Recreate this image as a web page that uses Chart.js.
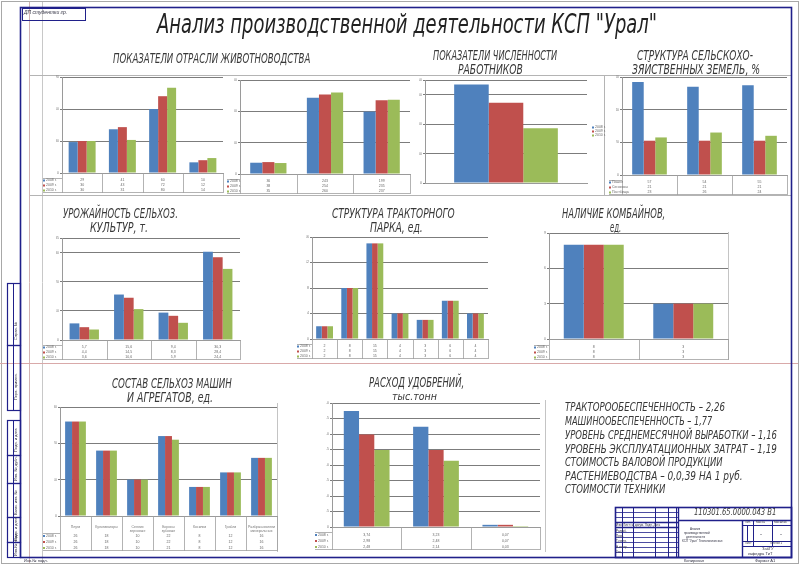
<!DOCTYPE html>
<html lang="ru">
<head>
<meta charset="utf-8">
<script src="https://cdn.jsdelivr.net/npm/chart.js@4.4.1/dist/chart.umd.min.js"></script>
<style>
  html, body { margin: 0; padding: 0; background: #fff; }
  #page { position: relative; width: 800px; height: 565px; overflow: hidden; }
  #page canvas { position: absolute; }
  .t { position: absolute; white-space: nowrap; line-height: 1; transform-origin: 0 0; color: #383838;
       font-family: 'Liberation Sans Narrow', 'DejaVu Sans Condensed', sans-serif; font-style: italic; }
  .big { font-family: 'DejaVu Sans', sans-serif; font-weight: 200; color: #222; }
  .tiny { position: absolute; white-space: nowrap; line-height: 1; font-family: 'Liberation Sans', sans-serif;
          font-size: 4px; color: #334; }
  .rot { transform-origin: 0 0; transform: rotate(-90deg); }
</style>
</head>
<body>
<div id="page">
  <canvas id="sheet" width="800" height="565" style="left:0;top:0"></canvas>

  <div class="t big" data-x="407" data-y="14" data-fs="26" data-w="500" data-a="c">Анализ производственной деятельности КСП "Урал"</div>

  <div class="t" data-x="211" data-y="53" data-fs="14" data-w="197" data-a="c">ПОКАЗАТЕЛИ ОТРАСЛИ ЖИВОТНОВОДСТВА</div>
  <div class="t" data-x="495" data-y="50" data-fs="14" data-w="124" data-a="c">ПОКАЗАТЕЛИ ЧИСЛЕННОСТИ</div>
  <div class="t" data-x="490" data-y="64" data-fs="14" data-w="65" data-a="c">РАБОТНИКОВ</div>
  <div class="t" data-x="695" data-y="50" data-fs="14" data-w="116" data-a="c">СТРУКТУРА СЕЛЬСКОХО-</div>
  <div class="t" data-x="696" data-y="64" data-fs="14" data-w="128" data-a="c">ЗЯЙСТВЕННЫХ ЗЕМЕЛЬ, %</div>

  <div class="t" data-x="120" data-y="208" data-fs="14" data-w="115" data-a="c">УРОЖАЙНОСТЬ СЕЛЬХОЗ.</div>
  <div class="t" data-x="119" data-y="222" data-fs="14" data-w="58" data-a="c">КУЛЬТУР, т.</div>
  <div class="t" data-x="393" data-y="208" data-fs="14" data-w="123" data-a="c">СТРУКТУРА ТРАКТОРНОГО</div>
  <div class="t" data-x="396" data-y="222" data-fs="14" data-w="53" data-a="c">ПАРКА, ед.</div>
  <div class="t" data-x="613" data-y="208" data-fs="14" data-w="103" data-a="c">НАЛИЧИЕ КОМБАЙНОВ,</div>
  <div class="t" data-x="615" data-y="222" data-fs="14" data-w="11" data-a="c">ед.</div>

  <div class="t" data-x="172" data-y="378" data-fs="14" data-w="120" data-a="c">СОСТАВ СЕЛЬХОЗ МАШИН</div>
  <div class="t" data-x="170" data-y="392" data-fs="14" data-w="86" data-a="c">И АГРЕГАТОВ, ед.</div>
  <div class="t" data-x="416" data-y="377" data-fs="14" data-w="95" data-a="c">РАСХОД УДОБРЕНИЙ,</div>
  <div class="t" data-x="414" data-y="392" data-fs="11" data-w="45" data-a="c">тыс.тонн</div>

  <div class="t" data-x="565" data-y="402" data-fs="13" data-w="160" data-a="l">ТРАКТОРООБЕСПЕЧЕННОСТЬ – 2,26</div>
  <div class="t" data-x="565" data-y="416" data-fs="13" data-w="147" data-a="l">МАШИНООБЕСПЕЧЕННОСТЬ – 1,77</div>
  <div class="t" data-x="565" data-y="430" data-fs="13" data-w="212" data-a="l">УРОВЕНЬ СРЕДНЕМЕСЯЧНОЙ ВЫРАБОТКИ – 1,16</div>
  <div class="t" data-x="565" data-y="444" data-fs="13" data-w="212" data-a="l">УРОВЕНЬ ЭКСПЛУАТАЦИОННЫХ ЗАТРАТ – 1,19</div>
  <div class="t" data-x="565" data-y="457" data-fs="13" data-w="158" data-a="l">СТОИМОСТЬ ВАЛОВОЙ ПРОДУКЦИИ</div>
  <div class="t" data-x="565" data-y="471" data-fs="13" data-w="178" data-a="l">РАСТЕНИЕВОДСТВА – 0,0,39 НА 1 руб.</div>
  <div class="t" data-x="565" data-y="484" data-fs="13" data-w="100" data-a="l">СТОИМОСТИ ТЕХНИКИ</div>

  <div class="t" data-x="694" data-y="510" data-fs="8" data-w="82" data-a="l">110301.65.0000.043 В1</div>
  <div class="tiny" style="left:690px;top:528px;font-size:3px">Анализ</div>
  <div class="tiny" style="left:684px;top:532px;font-size:3px">производственной</div>
  <div class="tiny" style="left:686px;top:536px;font-size:3px">деятельности</div>
  <div class="tiny" style="left:682px;top:540px;font-size:3px">КСП "Урал" Технологическая</div>
  <div class="tiny" style="left:745px;top:521px;font-size:3px">Лит.</div>
  <div class="tiny" style="left:756px;top:521px;font-size:3px">Масса</div>
  <div class="tiny" style="left:774px;top:521px;font-size:3px">Масштаб</div>
  <div class="tiny" style="left:760px;top:531px;font-size:6px">-</div>
  <div class="tiny" style="left:780px;top:531px;font-size:6px">-</div>
  <div class="tiny" style="left:745px;top:542px;font-size:3px">Лист</div>
  <div class="tiny" style="left:770px;top:542px;font-size:3px">Листов 1</div>
  <div class="tiny" style="left:762px;top:547px;font-size:4px">ЗабГУ</div>
  <div class="tiny" style="left:748px;top:552px;font-size:4px">кафедра ТиТ</div>
  <div class="tiny" style="left:616px;top:524px;font-size:3px">Изм. Лист № докум. Подп. Дата</div>
  <div class="tiny" style="left:616px;top:530px;font-size:3px">Разраб.</div>
  <div class="tiny" style="left:616px;top:535px;font-size:3px">Пров.</div>
  <div class="tiny" style="left:616px;top:540px;font-size:3px">Т.контр.</div>
  <div class="tiny" style="left:616px;top:546px;font-size:3px">Н.контр.</div>
  <div class="tiny" style="left:616px;top:551px;font-size:3px">Утв.</div>
  <div class="tiny" style="left:684px;top:559px">Копировал</div>
  <div class="tiny" style="left:755px;top:559px">Формат A1</div>
  <div class="tiny" style="left:24px;top:10px;font-size:5px;font-style:italic">ДП студентки гр.</div>
  <div class="tiny" style="left:24px;top:559px">Инв.№ подл.</div>

  <div class="tiny rot" style="left:14px;top:340px">Справ. №</div>
  <div class="tiny rot" style="left:14px;top:400px">Перв. примен.</div>
  <div class="tiny rot" style="left:14px;top:452px">Подп. и дата</div>
  <div class="tiny rot" style="left:14px;top:481px">Инв. № дубл.</div>
  <div class="tiny rot" style="left:14px;top:515px">Взам. инв. №</div>
  <div class="tiny rot" style="left:14px;top:541px">Подп. и дата</div>
  <div class="tiny rot" style="left:14px;top:556px">Инв.№ подл.</div>

  <canvas id="c1"></canvas><canvas id="c2"></canvas><canvas id="c3"></canvas>
  <canvas id="c4"></canvas><canvas id="c5"></canvas><canvas id="c6"></canvas>
  <canvas id="c7"></canvas><canvas id="c8"></canvas><canvas id="c9"></canvas>
</div>

<script>
// ---- данные ----
const years = ['2008 г.', '2009 г.', '2010 г.'];

// животноводство (1)
const stockCats = ['Поголовье КРС', 'Поголовье коров', 'Надой на 1 корову', 'Привес 1 гол.'];
const stock2008 = [29, 41, 60, 10];
const stock2009 = [30, 43, 72, 12];
const stock2010 = [30, 31, 80, 14];

// животноводство (2)
const prodCats = ['Поголовье свиней', 'Производство молока', 'Производство мяса'];
const prod2008 = [36, 243, 199];
const prod2009 = [38, 254, 235];
const prod2010 = [35, 260, 237];

// численность работников
const staffCats = ['Численность работников'];
const staff2008 = [335];
const staff2009 = [273];
const staff2010 = [186];

// структура земель, %
const landTypes = ['Пашня', 'Сенокосы', 'Пастбища'];
const landArable = [57, 54, 55];
const landHay = [21, 21, 21];
const landPasture = [23, 26, 24];

// урожайность
const cropCats = ['Зерновые', 'Картофель', 'Овощи', 'Корнеплоды'];
const crop2008 = [5.7, 15.6, 9.4, 30.3];
const crop2009 = [4.4, 14.5, 8.3, 28.4];
const crop2010 = [3.6, 10.6, 5.9, 24.4];

// тракторный парк
const tractorCats = ['К-701', 'Т-150К', 'МТЗ-80', 'ДТ-75', 'Т-40', 'ЮМЗ-6', 'Т-16'];
const tractor2008 = [2, 8, 15, 4, 3, 6, 4];
const tractor2009 = [2, 8, 15, 4, 3, 6, 4];
const tractor2010 = [2, 8, 15, 4, 3, 6, 4];

// комбайны
const combineCats = ['Зерноуборочные', 'Кормоуборочные'];
const combine2008 = [8, 3];
const combine2009 = [8, 3];
const combine2010 = [8, 3];

// сельхозмашины
const machineCats = [['Плуги'], ['Культиваторы'], ['Сеялки', 'зерновые'], ['Бороны', 'зубовые'], ['Косилки'], ['Грабли'], ['Разбрасыватели', 'минеральных', 'удобрений']];
const machine2008 = [26, 18, 10, 22, 8, 12, 16];
const machine2009 = [26, 18, 10, 22, 8, 12, 16];
const machine2010 = [26, 18, 10, 21, 8, 12, 16];

// удобрения, тыс. т
const fertCats = ['Органические удобрения', 'Минеральные', 'Химические средства'];
const fert2008 = [3.74, 3.23, 0.07];
const fert2009 = [2.98, 2.48, 0.07];
const fert2010 = [2.48, 2.14, 0.03];

// ---- оформление ----
const colors = ['#4F81BD', '#C0504D', '#9BBB59'];

// подписи: подгонка ширины под чертёжный шрифт
document.querySelectorAll('.t').forEach(el => {
  const fs = +el.dataset.fs, w = +el.dataset.w, x = +el.dataset.x;
  el.style.fontSize = fs + 'px';
  el.style.top = (+el.dataset.y - 0.125 * fs) + 'px';
  const k = w / el.offsetWidth;
  el.style.left = (el.dataset.a === 'c' ? x - w / 2 : x) + 'px';
  el.style.transform = 'scaleX(' + k + ')';
});

// рамка листа
const g = document.getElementById('sheet').getContext('2d');
function ln(x1, y1, x2, y2, c, w) {
  g.strokeStyle = c; g.lineWidth = w || 1;
  g.beginPath(); g.moveTo(x1, y1); g.lineTo(x2, y2); g.stroke();
}
function rect(x, y, w, h, c, lw) { g.strokeStyle = c; g.lineWidth = lw || 1; g.strokeRect(x, y, w, h); }
const navy = '#20208a';
rect(1.5, 1.5, 797, 562, '#a8a8a8', 1);
ln(29.5, 2, 29.5, 563, '#d2b4b4', 1);
ln(42.5, 2, 42.5, 563, '#c8c8c8', 1);
ln(0, 363.5, 798, 363.5, '#d9a9a9', 1);
ln(30, 75.5, 792, 75.5, '#b4b4b4', 1);
ln(30, 195.5, 792, 195.5, '#b4b4b4', 1);
ln(604.5, 75, 604.5, 195, '#b4b4b4', 1);
ln(728.5, 232, 728.5, 360, '#c4c4c4', 1);
ln(277.5, 403, 277.5, 552, '#c4c4c4', 1);
ln(545.5, 400, 545.5, 552, '#c4c4c4', 1);
rect(20.5, 7.5, 771, 550, navy, 1.6);
rect(22.5, 8.5, 63, 12, navy, 1);
// боковая графа
[[283, 345], [345, 410], [420, 455], [455, 483], [483, 517], [517, 542], [542, 557]].forEach(([a, b]) => {
  rect(7.5, a + 0.5, 13, b - a, navy, 1.2);
  ln(13.5, a, 13.5, b, navy, 1);
});
// основная надпись
rect(615.5, 507.5, 176, 50, navy, 1.6);
for (let y = 512; y < 557; y += 5) ln(615, y + 0.5, 678, y + 0.5, navy, y === 522 || y === 527 ? 1.3 : 0.8);
[622, 633, 655, 668, 676].forEach(x => ln(x + 0.5, 507, x + 0.5, 557, navy, 1));
ln(678.5, 507, 678.5, 557, navy, 1.4);
ln(742.5, 520, 742.5, 557, navy, 1.4);
ln(678, 520.5, 792, 520.5, navy, 1.4);
ln(742, 525.5, 792, 525.5, navy, 1);
ln(742, 541.5, 792, 541.5, navy, 1);
ln(742, 546.5, 792, 546.5, navy, 1);
[753, 772].forEach(x => ln(x + 0.5, 520, x + 0.5, 546, navy, 1));
ln(747.5, 525, 747.5, 541, navy, 1);

// ---- графики ----
Chart.defaults.animation = false;
Chart.defaults.font.family = '"Liberation Sans", Arial, sans-serif';

const tablePlugin = {
  id: 'dataTable',
  afterDraw(chart, args, opts) {
    const { ctx, chartArea: a, scales: { x } } = chart;
    const sets = chart.data.datasets;
    const n = chart.data.labels.length;
    ctx.save();
    if (opts.rowH) {
      const bottom = x.bottom + opts.rowH * sets.length;
      ctx.strokeStyle = '#a0a0a0';
      ctx.lineWidth = 0.8;
      ctx.beginPath();
      for (let i = 0; i <= n; i++) {
        const px = i === 0 ? a.left : i === n ? a.right : (x.getPixelForValue(i - 1) + x.getPixelForValue(i)) / 2;
        ctx.moveTo(Math.round(px) + 0.5, a.bottom);
        ctx.lineTo(Math.round(px) + 0.5, bottom);
      }
      ctx.moveTo(1, x.bottom + 0.5); ctx.lineTo(a.left, x.bottom + 0.5);
      ctx.moveTo(1, bottom - 0.5); ctx.lineTo(a.right, bottom - 0.5);
      ctx.stroke();
      ctx.font = '3.5px "Liberation Sans"';
      ctx.fillStyle = '#666';
      ctx.textBaseline = 'middle';
      sets.forEach((ds, r) => {
        const cy = x.bottom + opts.rowH * (r + 0.5);
        ctx.fillStyle = ds.backgroundColor;
        ctx.fillRect(1, cy - 1, 2, 2);
        ctx.fillStyle = '#666';
        ctx.textAlign = 'left';
        ctx.fillText(ds.label, 4, cy);
        ctx.textAlign = 'center';
        ds.data.forEach((v, i) => ctx.fillText(String(v).replace('.', ','), x.getPixelForValue(i), cy));
      });
    }
    if (opts.legend) {
      ctx.font = '3.5px "Liberation Sans"';
      ctx.textBaseline = 'middle';
      ctx.textAlign = 'left';
      const cy = (a.top + a.bottom) / 2 - 4;
      sets.forEach((ds, r) => {
        ctx.fillStyle = ds.backgroundColor;
        ctx.fillRect(a.right + 5, cy + r * 4 - 1, 2, 2);
        ctx.fillStyle = '#666';
        ctx.fillText(ds.label, a.right + 8, cy + r * 4);
      });
    }
    ctx.restore();
  }
};

function barChart(id, box, labels, names, values, yMax, yStep, catPct, opts) {
  opts = opts || {};
  const padT = 3, padR = opts.legend ? 20 : 2;
  const rows = opts.noTable ? 0 : box.rowH * names.length;
  const left = box.L - box.padL - box.yW;
  const top = box.T - padT;
  const cv = document.getElementById(id);
  cv.width = box.R - left + padR;
  cv.height = box.B - top + box.labH + rows + 1;
  cv.style.left = left + 'px';
  cv.style.top = top + 'px';
  return new Chart(cv, {
    type: 'bar',
    data: {
      labels: labels,
      datasets: names.map((nm, i) => ({
        label: nm, data: values[i], backgroundColor: colors[i],
        borderWidth: 0, categoryPercentage: catPct, barPercentage: 1
      }))
    },
    options: {
      responsive: false,
      layout: { padding: { left: box.padL, right: padR, top: padT, bottom: rows + 1 } },
      plugins: {
        legend: { display: false }, tooltip: { enabled: false },
        dataTable: { rowH: opts.noTable ? 0 : box.rowH, legend: !!opts.legend }
      },
      scales: {
        x: {
          grid: { display: false },
          border: { color: '#9a9a9a' },
          ticks: { font: { size: 3.5 }, color: '#777', maxRotation: 0, minRotation: 0, autoSkip: false, padding: 1 },
          afterFit: s => { s.height = box.labH; s.paddingLeft = 0; s.paddingRight = 0; }
        },
        y: {
          min: 0, max: yMax,
          ticks: { stepSize: yStep, font: { size: 3.5 }, color: '#777', padding: 1 },
          grid: { color: '#7c7c7c', lineWidth: 1, tickLength: 2 },
          border: { color: '#9a9a9a' },
          afterFit: s => { s.width = box.yW; s.paddingTop = 0; s.paddingBottom = 0; }
        }
      }
    },
    plugins: [tablePlugin]
  });
}

barChart('c1', { L: 62, T: 77, R: 223, B: 173, labH: 5, rowH: 5, padL: 14, yW: 6 },
  stockCats, years, [stock2008, stock2009, stock2010], 90, 30, 0.67);
barChart('c2', { L: 240, T: 80, R: 410, B: 174, labH: 5, rowH: 5, padL: 8, yW: 6 },
  prodCats, years, [prod2008, prod2009, prod2010], 300, 100, 0.64);
barChart('c3', { L: 425, T: 80, R: 587, B: 183, labH: 6, rowH: 0, padL: 4, yW: 6 },
  staffCats, years, [staff2008, staff2009, staff2010], 350, 100, 0.64, { noTable: true, legend: true });
barChart('c4', { L: 622, T: 77, R: 787, B: 175, labH: 5, rowH: 5, padL: 8, yW: 6 },
  years, landTypes, [landArable, landHay, landPasture], 60, 20, 0.63);
barChart('c5', { L: 62, T: 238, R: 240, B: 340, labH: 5, rowH: 5, padL: 14, yW: 6 },
  cropCats, years, [crop2008, crop2009, crop2010], 35, 10, 0.66);
barChart('c6', { L: 312, T: 237, R: 488, B: 339, labH: 5, rowH: 5, padL: 10, yW: 6 },
  tractorCats, years, [tractor2008, tractor2009, tractor2010], 16, 4, 0.67);
barChart('c7', { L: 549, T: 233, R: 728, B: 339, labH: 6, rowH: 5, padL: 10, yW: 6 },
  combineCats, years, [combine2008, combine2009, combine2010], 9, 3, 0.67);
barChart('c8', { L: 60, T: 407, R: 277, B: 516, labH: 17, rowH: 6, padL: 12, yW: 6 },
  machineCats, years, [machine2008, machine2009, machine2010], 30, 10, 0.67);
barChart('c9', { L: 332, T: 403, R: 540, B: 527, labH: 5, rowH: 6, padL: 12, yW: 6 },
  fertCats, years, [fert2008, fert2009, fert2010], 4, 0.5, 0.66);
</script>
</body>
</html>
